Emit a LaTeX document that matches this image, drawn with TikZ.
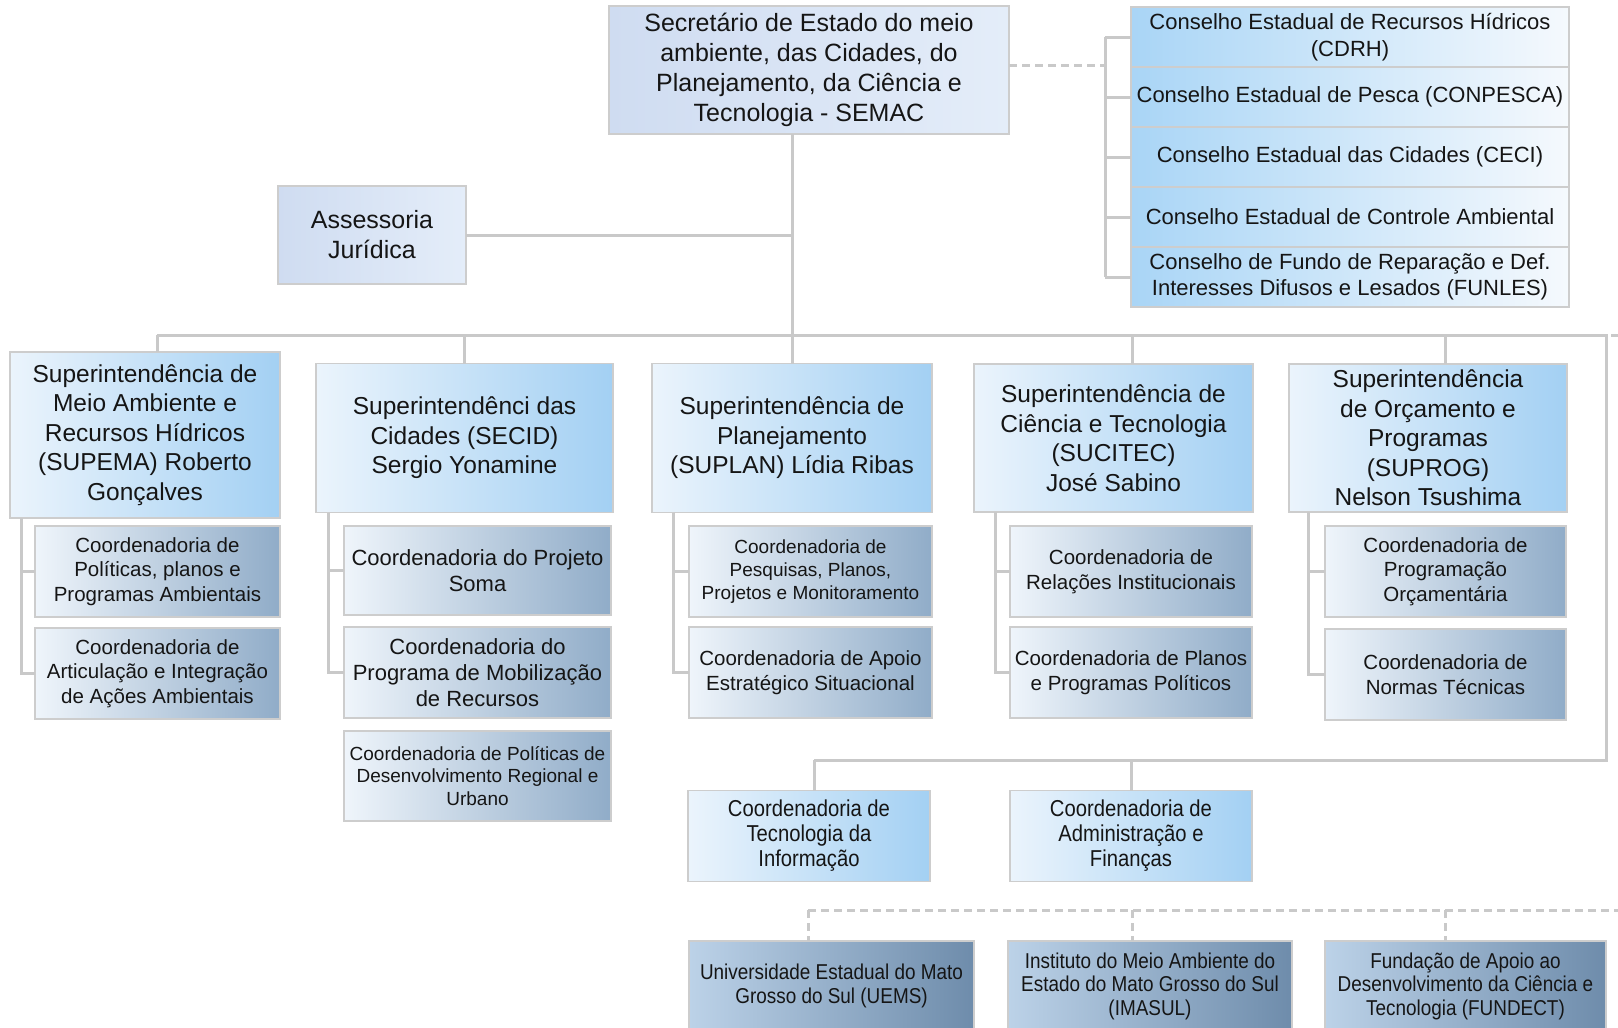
\documentclass[tikz,border=0pt]{standalone}
\usepackage{fontspec}
\setmainfont{Liberation Sans}
\newfontfamily\narrowfont[FakeStretch=0.88]{Liberation Sans}
\usetikzlibrary{positioning}
\definecolor{ink}{HTML}{151515}
\definecolor{edge}{HTML}{CDCDCD}
\definecolor{wire}{HTML}{C9C9C9}
\definecolor{headL}{HTML}{CFDCF1}
\definecolor{headR}{HTML}{E4EDF9}
\definecolor{consL}{HTML}{A9D5F6}
\definecolor{consR}{HTML}{F5F9FD}
\definecolor{supL}{HTML}{EBF4FC}
\definecolor{supR}{HTML}{A3D0F3}
\definecolor{coordL}{HTML}{EFF5FB}
\definecolor{coordR}{HTML}{90ACC8}
\definecolor{vinL}{HTML}{BCD2E8}
\definecolor{vinR}{HTML}{6E8CAB}

\begin{document}
\begin{tikzpicture}[x=1pt, y=-1pt,
    box/.style={draw=edge, line width=1.8pt, inner sep=2pt, outer sep=0pt, align=center, text=ink},
    head/.style={box, left color=headL, right color=headR, font=\fontsize{25}{30}\selectfont},
    cons/.style={box, left color=consL, right color=consR, minimum width=438pt, minimum height=60pt, font=\fontsize{22}{26.5}\selectfont},
    sup/.style={box, left color=supL, right color=supR, font=\fontsize{24.5}{29.5}\selectfont},
    coord/.style={box, left color=coordL, right color=coordR, font=\fontsize{20.5}{24.5}\selectfont},
    small/.style={font=\fontsize{19}{22.7}\selectfont},
    large/.style={font=\fontsize{22}{26}\selectfont},
    unit/.style={box, left color=supL, right color=supR, minimum width=242pt, minimum height=91pt, font=\narrowfont\fontsize{23}{25}\selectfont},
    vin/.style={box, left color=vinL, right color=vinR, minimum height=90pt, font=\narrowfont\fontsize{21.5}{23.5}\selectfont},
    link/.style={draw=wire, line width=3pt},
    link2/.style={link, dash pattern=on 8pt off 5pt}]
    \useasboundingbox (0,0) rectangle (1618,1028);
    \clip (0,0) rectangle (1618,1028);
    \fill[white] (0,0) rectangle (1618,1028);

    \coordinate (bus) at (792,335);
    \coordinate (busL) at (157,335);
    \coordinate (busR) at (1606,335);
    \coordinate (dropC) at (1132,335);
    \coordinate (dropP) at (1445,335);
    \coordinate (loopR) at (1606,760);
    \coordinate (loopL) at (814,760);
    \coordinate (cbar) at (1105,65);
    \coordinate (vincL) at (808,910);
    \coordinate (vincM) at (1132,910);
    \coordinate (vincR) at (1445,910);
    \coordinate (vincE) at (1618,910);

    \node[head, minimum width=400pt, minimum height=128pt] (semac) at (809,70) {Secretário de Estado do meio\\ambiente, das Cidades, do\\Planejamento, da Ciência e\\Tecnologia - SEMAC};
    \node[head, minimum width=188pt, minimum height=98pt] (ass) at (372,235) {Assessoria\\Jurídica};

    \node[cons] (cdrh) at (1350,37) {Conselho Estadual de Recursos Hídricos\\(CDRH)};
    \node[cons, below=0pt of cdrh] (conpesca) {Conselho Estadual de Pesca (CONPESCA)};
    \node[cons, below=0pt of conpesca] (ceci) {Conselho Estadual das Cidades (CECI)};
    \node[cons, below=0pt of ceci] (ceca) {Conselho Estadual de Controle Ambiental};
    \node[cons, below=0pt of ceca] (funles) {Conselho de Fundo de Reparação e Def.\\Interesses Difusos e Lesados (FUNLES)};

    \node[sup, minimum width=270pt, minimum height=166pt] (supema) at (145,435) {Superintendência de\\Meio Ambiente e\\Recursos Hídricos\\(SUPEMA) Roberto\\Gonçalves};
    \node[sup, minimum width=297pt, minimum height=149pt] (secid) at (464.5,438) {Superintendênci das\\Cidades (SECID)\\Sergio Yonamine};
    \node[sup, minimum width=280pt, minimum height=149pt] (suplan) at (792,438) {Superintendência de\\Planejamento\\(SUPLAN) Lídia Ribas};
    \node[sup, minimum width=279pt, minimum height=148pt] (sucitec) at (1113.5,438) {Superintendência de\\Ciência e Tecnologia\\(SUCITEC)\\José Sabino};
    \node[sup, minimum width=278pt, minimum height=148pt] (suprog) at (1428,438) {Superintendência\\de Orçamento e\\Programas\\(SUPROG)\\Nelson Tsushima};

    \node[coord, minimum width=245pt, minimum height=91pt] (pma1) at (157.5,571.5) {Coordenadoria de\\Políticas, planos e\\Programas Ambientais};
    \node[coord, minimum width=245pt, minimum height=91pt] (pma2) at (157.5,673.5) {Coordenadoria de\\Articulação e Integração\\de Ações Ambientais};

    \node[coord, large, minimum width=267pt, minimum height=89pt] (cid1) at (477.5,570.5) {Coordenadoria do Projeto\\Soma};
    \node[coord, large, minimum width=267pt, minimum height=91pt] (cid2) at (477.5,672.5) {Coordenadoria do\\Programa de Mobilização\\de Recursos};
    \node[coord, small, minimum width=267pt, minimum height=90pt] (cid3) at (477.5,776) {Coordenadoria de Políticas de\\Desenvolvimento Regional e\\Urbano};

    \node[coord, small, minimum width=243pt, minimum height=91pt] (plan1) at (810.5,571.5) {Coordenadoria de\\Pesquisas, Planos,\\Projetos e Monitoramento};
    \node[coord, minimum width=243pt, minimum height=91pt] (plan2) at (810.5,672.5) {Coordenadoria de Apoio\\Estratégico Situacional};

    \node[coord, minimum width=242pt, minimum height=91pt] (cit1) at (1131,571.5) {Coordenadoria de\\Relações Institucionais};
    \node[coord, minimum width=242pt, minimum height=91pt] (cit2) at (1131,672.5) {Coordenadoria de Planos\\e Programas Políticos};

    \node[coord, minimum width=241pt, minimum height=91pt] (prog1) at (1445.5,571.5) {Coordenadoria de\\Programação\\Orçamentária};
    \node[coord, minimum width=241pt, minimum height=91pt] (prog2) at (1445.5,674.5) {Coordenadoria de\\Normas Técnicas};

    \node[unit] (ti) at (809,836) {Coordenadoria de\\Tecnologia da\\Informação};
    \node[unit] (adm) at (1131,836) {Coordenadoria de\\Administração e\\Finanças};

    \node[vin, minimum width=285pt] (uems) at (831.5,986) {Universidade Estadual do Mato\\Grosso do Sul (UEMS)};
    \node[vin, minimum width=284pt] (imasul) at (1150,986) {Instituto do Meio Ambiente do\\Estado do Mato Grosso do Sul\\(IMASUL)};
    \node[vin, minimum width=281pt] (fundect) at (1465.5,986) {Fundação de Apoio ao\\Desenvolvimento da Ciência e\\Tecnologia (FUNDECT)};

    \draw[link] (semac.south -| bus) -- (bus);
    \draw[link] (ass.east) -- (ass.east -| bus);
    \draw[link] (busL) -- (busR) -- (loopR) -- (loopL);
    \draw[link] (busL) -- (busL |- supema.north);
    \draw[link] (secid.north |- bus) -- (secid.north);
    \draw[link] (bus) -- (suplan.north);
    \draw[link] (dropC) -- (dropC |- sucitec.north);
    \draw[link] (dropP) -- (dropP |- suprog.north);
    \draw[link] (loopL) -- (loopL |- ti.north);
    \draw[link] (adm.north |- loopL) -- (adm.north);

    \draw[link2] (semac.east |- cbar) -- (cbar);
    \draw[link] (cdrh.west -| cbar) -- (funles.west -| cbar);
    \foreach \c in {cdrh,conpesca,ceci,ceca,funles}
        \draw[link] (\c.west -| cbar) -- (\c.west);

    \draw[link] ([xshift=11pt]supema.south west) |- (pma1.west);
    \draw[link] ([xshift=11pt]supema.south west) |- (pma2.west);
    \draw[link] ([xshift=12pt]secid.south west) |- (cid1.west);
    \draw[link] ([xshift=12pt]secid.south west) |- (cid2.west);
    \draw[link] ([xshift=21pt]suplan.south west) |- (plan1.west);
    \draw[link] ([xshift=21pt]suplan.south west) |- (plan2.west);
    \draw[link] ([xshift=21pt]sucitec.south west) |- (cit1.west);
    \draw[link] ([xshift=21pt]sucitec.south west) |- (cit2.west);
    \draw[link] ([xshift=19pt]suprog.south west) |- (prog1.west);
    \draw[link] ([xshift=19pt]suprog.south west) |- (prog2.west);

    \draw[link2] (vincL) -- (vincE);
    \draw[link2] (vincL) -- (vincL |- uems.north);
    \draw[link2] (vincM) -- (vincM |- imasul.north);
    \draw[link2] (vincR) -- (vincR |- fundect.north);
    \draw[link2] (1611,335) -- (1618,335);
\end{tikzpicture}
\end{document}
